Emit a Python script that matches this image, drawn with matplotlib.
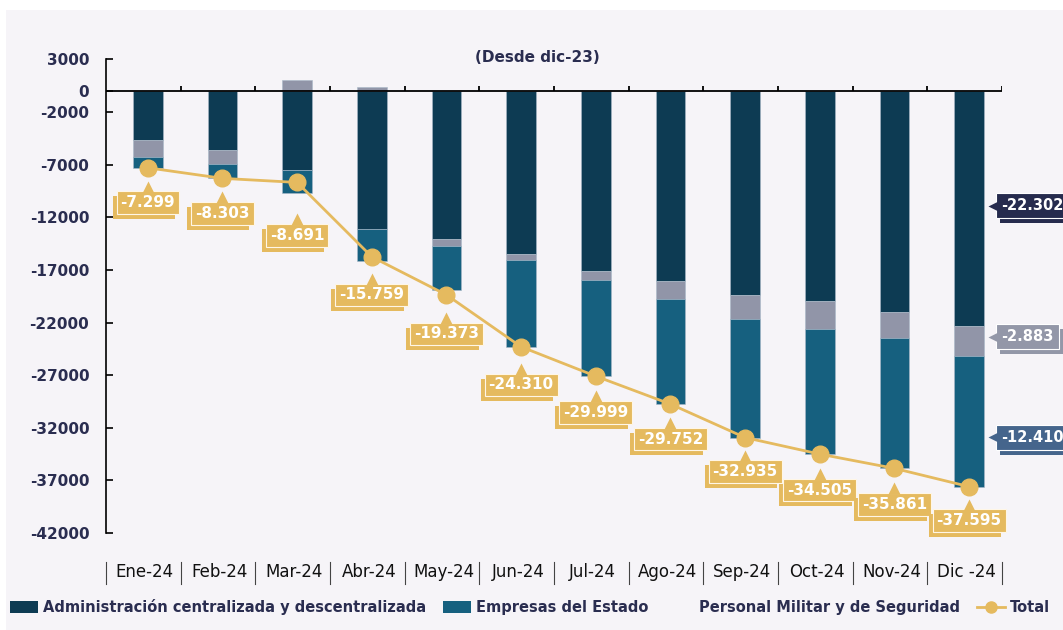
import numpy as np
import matplotlib
matplotlib.use("Agg")
import matplotlib.pyplot as plt
from matplotlib.patches import Rectangle, Patch
from matplotlib.lines import Line2D
from matplotlib import transforms
import matplotlib.patheffects as pe

months = ['Ene-24', 'Feb-24', 'Mar-24', 'Abr-24', 'May-24', 'Jun-24',
          'Jul-24', 'Ago-24', 'Sep-24', 'Oct-24', 'Nov-24', 'Dic -24']
admin = [-4700, -5650, -7550, -13150, -14100, -15500, -17080, -18030, -19400, -19960, -20980, -22302]
empresas = [-1000, -1400, -2140, -2960, -4200, -8260, -9100, -10000, -11250, -11880, -12350, -12410]
militar = [-1600, -1250, 1000, 350, -650, -540, -880, -1740, -2280, -2660, -2530, -2883]
total = [-7299, -8303, -8691, -15759, -19373, -24310, -27100, -29752, -32935, -34505, -35861, -37595]
total_labels = ['-7.299', '-8.303', '-8.691', '-15.759', '-19.373', '-24.310',
                '-29.999', '-29.752', '-32.935', '-34.505', '-35.861', '-37.595']
yticks = [3000, 0, -2000, -7000, -12000, -17000, -22000, -27000, -32000, -37000, -42000]
last_labels = ['-22.302', '-2.883', '-12.410']

C_ADMIN = '#0D3B53'
C_EMP = '#16607F'
C_MIL = '#9195A8'
GOLD = '#E5BA5F'
NAVY = '#2A2D50'
BG = '#F6F4F8'

W, H = 1063, 630
fig = plt.figure(figsize=(W / 100, H / 100), dpi=100)
fig.patch.set_facecolor('white')
fig.patches.append(Rectangle((6 / W, 0), 1, (H - 10) / H, transform=fig.transFigure,
                             facecolor=BG, edgecolor='none', zorder=-5))

top_px, bot_px = 59.4, 533.0
ax = fig.add_axes([106 / W, (H - bot_px) / H, (1002 - 106) / W, (bot_px - top_px) / H])
ax.set_facecolor('none')
ax.set_xlim(-0.5, 11.5)
ax.set_ylim(-42000, 3000)

x = np.arange(len(months)) + 0.06
a = np.array(admin, float)
e = np.array(empresas, float)
m = np.array(militar, float)
mil_bottom = np.where(m < 0, a, 0)
emp_bottom = a + np.minimum(m, 0)

bw = 0.4
ec = '#A9B9C8'
ax.bar(x, a, bw, color=C_ADMIN, edgecolor=ec, linewidth=0.4, zorder=2)
ax.bar(x, m, bw, bottom=mil_bottom, color=C_MIL, edgecolor=ec, linewidth=0.4, zorder=2)
ax.bar(x, e, bw, bottom=emp_bottom, color=C_EMP, edgecolor=ec, linewidth=0.4, zorder=2)

ax.plot(x, total, color=GOLD, lw=2.0, marker='o', ms=12, zorder=4)

# zero line with upward ticks
ax.axhline(0, color='black', lw=1.3, zorder=3)
for k in range(12):
    ax.plot([k + 0.5, k + 0.5], [0, 500], color='black', lw=1.3, zorder=3, solid_capstyle='butt')

# spines / ticks
for s in ['top', 'right', 'bottom']:
    ax.spines[s].set_visible(False)
ax.spines['left'].set_linewidth(1.2)
ax.set_xticks([])
ax.set_yticks(yticks)
ax.set_yticklabels([str(t) for t in yticks])
ax.tick_params(axis='y', direction='in', length=5, width=1.2, pad=12,
               labelsize=11, labelcolor=NAVY)
for lab in ax.get_yticklabels():
    lab.set_fontweight('bold')

# x labels at bottom with separators
bt = transforms.blended_transform_factory(ax.transData, ax.transAxes)
for i, mname in enumerate(months):
    ax.text(i + 0.02, -0.083, mname, transform=bt, ha='center', va='center',
            fontsize=12, color='#111111', fontweight='medium')
for k in range(13):
    ax.plot([k - 0.5, k - 0.5], [-0.062, -0.108], transform=bt, color='#444444',
            lw=0.8, clip_on=False)

# total labels
label_dy = [35, 35, 53, 38, 39, 38, 36, 35, 34, 36, 36, 34]
for xi, yi, txt, dy in zip(x, total, total_labels, label_dy):
    t = ax.annotate(txt, (xi, yi), xytext=(0, -dy), textcoords='offset pixels',
                    ha='center', va='center', fontsize=11, fontweight='bold', color='white',
                    bbox=dict(boxstyle='square,pad=0.25', fc=GOLD, ec='#FFF6E6', lw=0.8),
                    zorder=6)
    t.get_bbox_patch().set_path_effects([
        pe.SimplePatchShadow(offset=(-3, -3.6), shadow_rgbFace=GOLD, alpha=1.0),
        pe.Normal()])
    tr = transforms.offset_copy(ax.transData, fig=fig, x=0, y=-(dy - 16), units='dots')
    ax.plot([xi], [yi], marker='^', ms=9, color=GOLD, mec='none', transform=tr,
            zorder=6, clip_on=False)

# right labels for last bar
last_y = [-10900, -23350, -32900]
last_cols = ['#262B4E', '#9397A8', '#45658C']
xl = x[-1]
for yv, txt, col in zip(last_y, last_labels, last_cols):
    t = ax.annotate(txt, (xl, yv), xytext=(32, 0), textcoords='offset pixels',
                    ha='left', va='center', fontsize=10.5, fontweight='bold', color='white',
                    bbox=dict(boxstyle='square,pad=0.35', fc=col, ec='white', lw=0.8),
                    zorder=6, annotation_clip=False)
    t.get_bbox_patch().set_path_effects([
        pe.SimplePatchShadow(offset=(3, -3.6), shadow_rgbFace=col, alpha=1.0),
        pe.Normal()])
    tr = transforms.offset_copy(ax.transData, fig=fig, x=26, y=0, units='dots')
    ax.plot([xl], [yv], marker='<', ms=10, color=col, mec='none', transform=tr,
            zorder=6, clip_on=False)

# title
fig.text(537 / W, (H - 58) / H, '(Desde dic-23)', ha='center', va='center',
         fontsize=11, fontweight='bold', color=NAVY)

# legend
handles = [Patch(facecolor=C_ADMIN, edgecolor='none'),
           Patch(facecolor=C_EMP, edgecolor='none'),
           Patch(facecolor='none', edgecolor='none'),
           Line2D([0], [0], color=GOLD, lw=2, marker='o', ms=8)]
labels = ['Administración centralizada y descentralizada', 'Empresas del Estado',
          'Personal Militar y de Seguridad', 'Total']
leg = fig.legend(handles, labels, loc='center left', bbox_to_anchor=(4 / W, (H - 607) / H),
                 ncol=4, frameon=False, fontsize=10.5, handlelength=1.9, handleheight=0.8,
                 handletextpad=0.35, columnspacing=1.2, borderaxespad=0)
for tx in leg.get_texts():
    tx.set_color(NAVY)
    tx.set_fontweight('bold')

fig.savefig('out.png', dpi=100, facecolor=fig.get_facecolor())
